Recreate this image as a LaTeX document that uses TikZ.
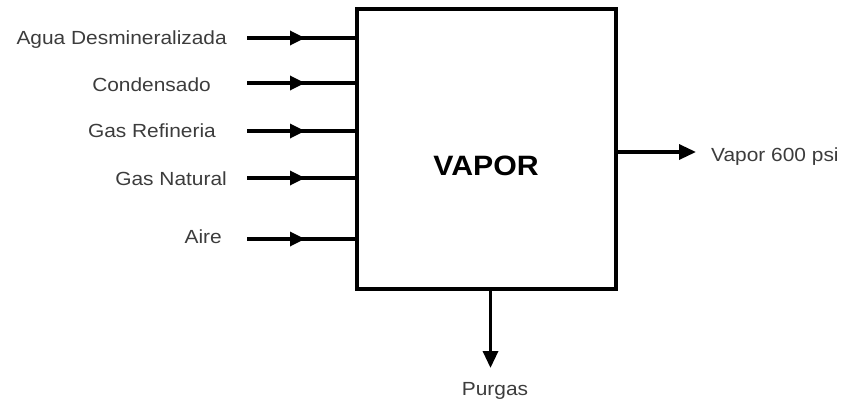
\documentclass[tikz,border=0pt]{standalone}
\usepackage{fontspec}
\setmainfont{Liberation Sans}
\newfontfamily\lblfont[FakeStretch=1.1]{Liberation Sans}
\newfontfamily\boldlbl[FakeStretch=1.08]{Liberation Sans Bold}
\usetikzlibrary{arrows.meta,decorations.markings}
\definecolor{txtgray}{HTML}{3C3C3C}
\tikzset{
  lbl/.style={inner sep=0pt, text=txtgray, font=\lblfont\fontsize{19}{22}\selectfont},
  flow/.style={line width=3.3pt},
  tipA/.style={-{Triangle[length=17pt,width=15pt]}},
  inflow/.style={flow, postaction={decorate}, decoration={markings,
     mark=at position 58pt with {\arrow{Triangle[length=15pt,width=14pt]}}}},
}
\begin{document}
\begin{tikzpicture}[x=1pt,y=-1pt]
\useasboundingbox (0,0) rectangle (844,405);
\node[draw, line width=3.3pt, minimum width=259pt, minimum height=280pt, inner sep=0pt, outer sep=0pt] (box) at (486.5,149) {};
\node[inner sep=0pt, anchor=base, font=\boldlbl\fontsize{28}{32}\selectfont] (vap) at (486,175) {VAPOR};

\node[lbl, anchor=base east] (l1) at (227,44.6) {Agua Desmineralizada};
\node[lbl, anchor=base east] (l2) at (211,91.6) {Condensado};
\node[lbl, anchor=base east] (l3) at (216,137.6) {Gas Refineria};
\node[lbl, anchor=base east] (l4) at (227,185.3) {Gas Natural};
\node[lbl, anchor=base east] (l5) at (222,243.6) {Aire};

\coordinate (s1) at (247,38);
\coordinate (s2) at (247,83);
\coordinate (s3) at (247,131);
\coordinate (s4) at (247,178);
\coordinate (s5) at (247,239);
\foreach \i in {1,...,5}{
  \draw[inflow] (s\i) -- (box.west |- s\i);
}

\coordinate (o1) at (616,152);
\coordinate (t1) at (696,152);
\draw[flow, tipA] (box.east |- o1) -- (t1);
\node[lbl, anchor=base west] (vout) at (711,161) {Vapor 600 psi};

\coordinate (o2) at (490.5,289);
\coordinate (t2) at (490.5,368);
\draw[flow, tipA] (box.south -| o2) -- (t2);
\node[lbl, anchor=base] (purg) at (495,395.5) {Purgas};
\end{tikzpicture}
\end{document}
